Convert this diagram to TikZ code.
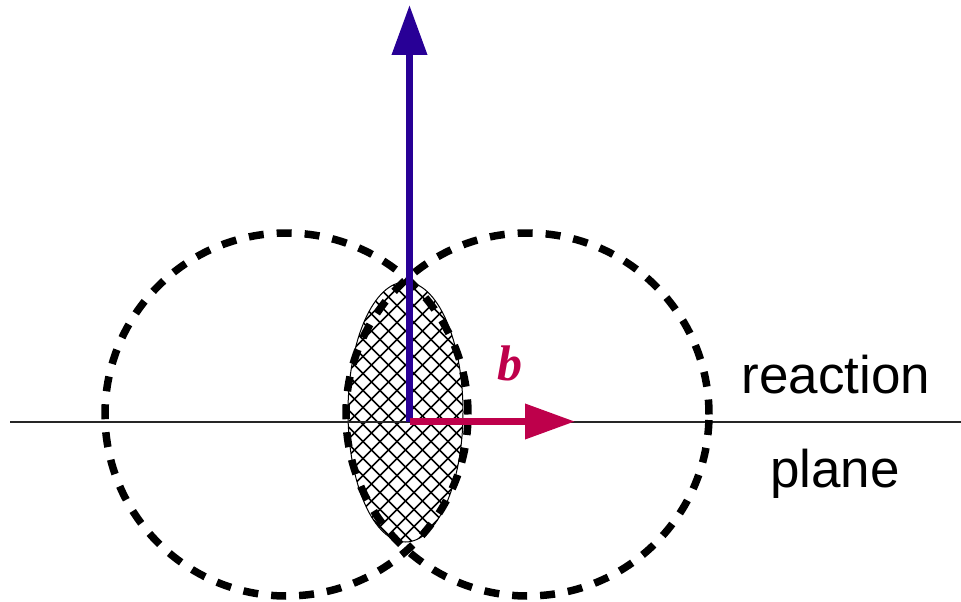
\documentclass[tikz,border=0pt]{standalone}
\usepackage{fontspec}
\setmainfont{Liberation Sans}
\newfontfamily\bfont{Liberation Serif}
\usetikzlibrary{arrows.meta,calc}
\definecolor{vblue}{RGB}{40,0,150}
\definecolor{vred}{RGB}{190,0,75}
\tikzset{
  nucleus/.style={line width=7.5pt, dash pattern=on 15pt off 13pt},
  vecarrow/.style={line width=7pt, -{Triangle[length=50pt,width=34pt]}},
  lbl/.style={font=\fontsize{53}{60}\selectfont, inner sep=0pt, anchor=base}
}
\begin{document}
\begin{tikzpicture}[x=1pt,y=-1pt]
\useasboundingbox (0,0) rectangle (961,602);
\coordinate (O) at (409.5,421.5);
\coordinate (L) at (10,422);
\coordinate (R) at (961,422);
\coordinate (C1) at (286.5,414.5);
\coordinate (C2) at (527.5,414.5);
\coordinate (E) at (405.5,412);
\coordinate (Ytip) at (409.5,5);
\coordinate (Btip) at (575,421.5);
% hatched overlap ellipse
\begin{scope}
  \clip (E) ellipse [x radius=57.5pt, y radius=130pt];
  \foreach \k in {-40,...,40} {
    \draw[line width=1.5pt] ($(E)+(\k*17,-200)$) -- ++(400,400);
    \draw[line width=1.5pt] ($(E)+(\k*17,-200)$) -- ++(-400,400);
  }
\end{scope}
\draw[line width=1pt] (E) ellipse [x radius=57.5pt, y radius=130pt];
% reaction plane
\draw[line width=1.4pt, black!85] (L) -- (R);
% nuclei
\draw[nucleus] (C1) circle [radius=181.5pt];
\draw[nucleus] (C2) circle [radius=181.5pt];
% vectors
\draw[vecarrow, vblue] (O) -- (Ytip);
\draw[vecarrow, vred] (O) -- (Btip);
\node[lbl, vred, font=\fontsize{50}{56}\bfont\bfseries\itshape] (b) at (510,380) {b};
\node[lbl] (t1) at (836,393) {reaction};
\node[lbl] (t2) at (835,487) {plane};
\end{tikzpicture}
\end{document}
